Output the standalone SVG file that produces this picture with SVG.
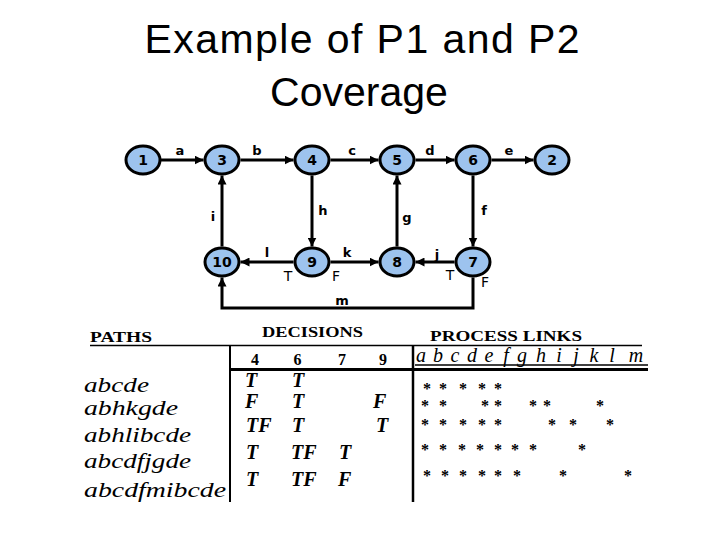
<svg xmlns="http://www.w3.org/2000/svg" width="720" height="540" viewBox="0 0 720 540">
<style>
.title{font-family:"Liberation Sans",Arial,sans-serif;font-size:41px;fill:#000;text-anchor:middle}
.node ellipse{fill:#9DC3EE;stroke:#000;stroke-width:3}
.node text{font-family:"DejaVu Sans",sans-serif;font-weight:bold;font-size:14px;text-anchor:middle;fill:#000}
.edge{fill:none;stroke:#000;stroke-width:3;marker-end:url(#arr)}
.lbl{font-family:"DejaVu Sans",sans-serif;font-weight:bold;font-size:13px;text-anchor:middle;fill:#000}
.tf{font-family:"DejaVu Sans",sans-serif;font-size:14px;text-anchor:middle;fill:#000}
.hdr{font-family:"Liberation Serif","Times New Roman",serif;font-weight:bold;fill:#000}
.dig{font-family:"Liberation Serif","Times New Roman",serif;font-weight:bold;font-size:16px;text-anchor:middle;fill:#000}
.val{font-family:"Liberation Serif","Times New Roman",serif;font-weight:bold;font-style:italic;font-size:20px;fill:#000}
.path{font-family:"Liberation Serif","Times New Roman",serif;font-style:italic;font-size:20px;fill:#000}
.lk{font-family:"Liberation Serif","Times New Roman",serif;font-style:italic;font-size:20px;text-anchor:middle;fill:#000}
.ast{font-family:"Liberation Serif","Times New Roman",serif;font-size:16px;font-weight:bold;text-anchor:middle;fill:#000}
.rule{stroke:#000;fill:none}
</style>
<defs>
<marker id="arr" viewBox="0 0 10 10" refX="10" refY="5" markerWidth="9" markerHeight="9" markerUnits="userSpaceOnUse" orient="auto">
<path d="M0,0 L10,5 L0,10 z" fill="#000"/>
</marker>
</defs>
<rect width="720" height="540" fill="#fff"/>
<text class="title" x="362" y="53" textLength="435">Example of P1 and P2</text>
<text class="title" x="359" y="106">Coverage</text>

<g id="connectors">
<path class="edge" d="M160.5,160 H203.5"/>
<path class="edge" d="M240.5,160 H293.5"/>
<path class="edge" d="M330.5,160 H378.5"/>
<path class="edge" d="M415.5,160 H454.5"/>
<path class="edge" d="M491.5,160 H533.5"/>
<path class="edge" d="M312,175.5 V246.5"/>
<path class="edge" d="M222,246.5 V175.5"/>
<path class="edge" d="M473,175.5 V246.5"/>
<path class="edge" d="M397,246.5 V175.5"/>
<path class="edge" d="M293.5,262 H240.5"/>
<path class="edge" d="M330.5,262 H378.5"/>
<path class="edge" d="M454.5,262 H415.5"/>
<path class="edge" d="M473,277.5 V308 H222 V277.5"/>
<text class="lbl" x="180" y="155">a</text>
<text class="lbl" x="257" y="155">b</text>
<text class="lbl" x="352" y="155">c</text>
<text class="lbl" x="430" y="155">d</text>
<text class="lbl" x="509" y="155">e</text>
<text class="lbl" x="323" y="215">h</text>
<text class="lbl" x="213" y="221">i</text>
<text class="lbl" x="484" y="215">f</text>
<text class="lbl" x="407" y="222">g</text>
<text class="lbl" x="267" y="257">l</text>
<text class="lbl" x="347" y="257">k</text>
<text class="lbl" x="437" y="259">j</text>
<text class="lbl" x="342" y="305">m</text>
<text class="tf" x="288" y="281">T</text>
<text class="tf" x="336" y="281">F</text>
<text class="tf" x="450" y="280">T</text>
<text class="tf" x="485" y="287">F</text>
</g>

<g id="n1" class="node"><ellipse cx="143" cy="160" rx="17" ry="14"/><text x="143" y="165">1</text></g>
<g id="n3" class="node"><ellipse cx="222" cy="160" rx="17" ry="14"/><text x="222" y="165">3</text></g>
<g id="n4" class="node"><ellipse cx="312" cy="160" rx="17" ry="14"/><text x="312" y="165">4</text></g>
<g id="n5" class="node"><ellipse cx="397" cy="160" rx="17" ry="14"/><text x="397" y="165">5</text></g>
<g id="n6" class="node"><ellipse cx="473" cy="160" rx="17" ry="14"/><text x="473" y="165">6</text></g>
<g id="n2" class="node"><ellipse cx="552" cy="160" rx="17" ry="14"/><text x="552" y="165">2</text></g>
<g id="n10" class="node"><ellipse cx="222" cy="262" rx="17" ry="14"/><text x="222" y="267">10</text></g>
<g id="n9" class="node"><ellipse cx="312" cy="262" rx="17" ry="14"/><text x="312" y="267">9</text></g>
<g id="n8" class="node"><ellipse cx="397" cy="262" rx="17" ry="14"/><text x="397" y="267">8</text></g>
<g id="n7" class="node"><ellipse cx="473" cy="262" rx="17" ry="14"/><text x="473" y="267">7</text></g>

<g id="table">
<line class="rule" x1="90" y1="345.5" x2="642" y2="345.5" stroke-width="1.5"/>
<line class="rule" x1="415" y1="365" x2="648" y2="365" stroke-width="1.5"/>
<line class="rule" x1="230" y1="369.5" x2="648" y2="369.5" stroke-width="3"/>
<line class="rule" x1="230" y1="345" x2="230" y2="502" stroke-width="2"/>
<line class="rule" x1="413" y1="345" x2="413" y2="502" stroke-width="2.5"/>
<text class="hdr" x="90" y="342" font-size="15" textLength="62" lengthAdjust="spacingAndGlyphs">PATHS</text>
<text class="hdr" x="262" y="337" font-size="14" textLength="101" lengthAdjust="spacingAndGlyphs">DECISIONS</text>
<text class="hdr" x="430" y="341" font-size="15" textLength="152" lengthAdjust="spacingAndGlyphs">PROCESS LINKS</text>
<text class="dig" x="255" y="365">4</text>
<text class="dig" x="297.5" y="365">6</text>
<text class="dig" x="342" y="365">7</text>
<text class="dig" x="383" y="365">9</text>
<text class="path" x="84" y="392" textLength="65" lengthAdjust="spacingAndGlyphs">abcde</text>
<text class="path" x="84" y="415" textLength="94" lengthAdjust="spacingAndGlyphs">abhkgde</text>
<text class="path" x="84" y="442" textLength="107" lengthAdjust="spacingAndGlyphs">abhlibcde</text>
<text class="path" x="84" y="468" textLength="107" lengthAdjust="spacingAndGlyphs">abcdfjgde</text>
<text class="path" x="84" y="497" textLength="142" lengthAdjust="spacingAndGlyphs">abcdfmibcde</text>
<text class="val" x="245" y="387">T</text><text class="val" x="292" y="387">T</text>
<text class="val" x="245" y="408">F</text><text class="val" x="292" y="408">T</text><text class="val" x="373" y="408">F</text>
<text class="val" x="246" y="432">TF</text><text class="val" x="292" y="432">T</text><text class="val" x="376" y="432">T</text>
<text class="val" x="246" y="459">T</text><text class="val" x="291" y="459">TF</text><text class="val" x="339" y="459">T</text>
<text class="val" x="246" y="486">T</text><text class="val" x="291" y="486">TF</text><text class="val" x="338" y="486">F</text>
<text class="lk" x="421" y="362">a</text><text class="lk" x="438" y="362">b</text><text class="lk" x="455" y="362">c</text><text class="lk" x="472" y="362">d</text><text class="lk" x="489" y="362">e</text><text class="lk" x="506" y="362">f</text><text class="lk" x="522" y="362">g</text><text class="lk" x="541" y="362">h</text><text class="lk" x="559" y="362">i</text><text class="lk" x="576" y="362">j</text><text class="lk" x="594" y="362">k</text><text class="lk" x="612" y="362">l</text><text class="lk" x="636" y="362">m</text>
<text class="ast" x="427" y="394">*</text><text class="ast" x="443" y="394">*</text><text class="ast" x="463" y="394">*</text><text class="ast" x="482" y="394">*</text><text class="ast" x="498" y="394">*</text>
<text class="ast" x="425" y="411">*</text><text class="ast" x="443" y="411">*</text><text class="ast" x="485" y="411">*</text><text class="ast" x="498" y="411">*</text><text class="ast" x="533" y="411">*</text><text class="ast" x="547" y="411">*</text><text class="ast" x="600" y="411">*</text>
<text class="ast" x="425" y="430">*</text><text class="ast" x="443" y="430">*</text><text class="ast" x="463" y="430">*</text><text class="ast" x="482" y="430">*</text><text class="ast" x="498" y="430">*</text><text class="ast" x="552" y="430">*</text><text class="ast" x="573" y="430">*</text><text class="ast" x="610" y="430">*</text>
<text class="ast" x="425" y="455">*</text><text class="ast" x="443" y="455">*</text><text class="ast" x="462" y="455">*</text><text class="ast" x="480" y="455">*</text><text class="ast" x="498" y="455">*</text><text class="ast" x="515" y="455">*</text><text class="ast" x="533" y="455">*</text><text class="ast" x="582" y="455">*</text>
<text class="ast" x="427" y="481">*</text><text class="ast" x="445" y="481">*</text><text class="ast" x="463" y="481">*</text><text class="ast" x="482" y="481">*</text><text class="ast" x="498" y="481">*</text><text class="ast" x="517" y="481">*</text><text class="ast" x="563" y="481">*</text><text class="ast" x="628" y="481">*</text>
</g>
</svg>
